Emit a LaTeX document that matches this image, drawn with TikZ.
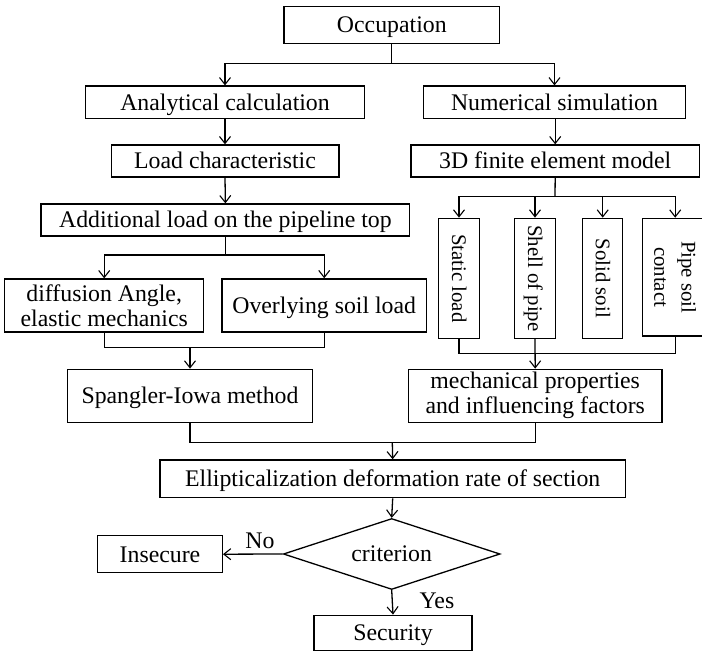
\documentclass[tikz,border=0pt]{standalone}
\usepackage{fontspec}
\setmainfont{Liberation Serif}
\usetikzlibrary{arrows.meta,shapes.geometric}
\begin{document}
\begin{tikzpicture}[x=1pt,y=-1pt,
  every node/.style={font=\fontsize{23.8}{25}\selectfont},
  box/.style={draw,line width=1.3pt,rectangle,inner sep=0pt,align=center},
  sbox/.style={box,text height=15.8pt,text depth=0pt},
  vbox/.style={box,rotate=-90,font=\fontsize{20.8}{27.3}\selectfont},
  vsbox/.style={vbox,text height=13.8pt,text depth=0pt},
  lbl/.style={inner sep=0pt,text height=15.8pt,text depth=0pt},
  ln/.style={line width=1.3pt},
  arr/.style={-{Straight Barb[length=7pt,width=11pt,line width=1.1pt]}},
  ]
\useasboundingbox (0,0) rectangle (702,652);
\clip (0,0) rectangle (702,652);
\node[sbox,minimum width=215.7pt,minimum height=36.6pt] (occ) at (391.8,25) {Occupation};
\node[sbox,minimum width=278.6pt,minimum height=32.3pt] (ana) at (225,102.2) {Analytical calculation};
\node[sbox,minimum width=262.6pt,minimum height=32.3pt] (num) at (554.5,102.2) {Numerical simulation};
\node[sbox,minimum width=227.7pt,minimum height=32pt] (load) at (225,161) {Load characteristic};
\node[sbox,minimum width=288.3pt,minimum height=32pt] (fem) at (555.2,161) {3D finite element model};
\node[sbox,minimum width=368.7pt,minimum height=32pt] (add) at (225.4,220) {Additional load on the pipeline top};
\node[box,minimum width=199pt,minimum height=53pt] (diff) at (104.2,305.5) {diffusion Angle,\\elastic mechanics};
\node[sbox,minimum width=204.3pt,minimum height=53pt] (over) at (324.2,305.4) {Overlying soil load};
\node[sbox,minimum width=245.4pt,minimum height=53pt] (spang) at (190,395.8) {Spangler-Iowa method};
\node[vsbox,minimum width=120pt,minimum height=40.6pt] (static) at (459,278.3) {Static load};
\node[vsbox,minimum width=120pt,minimum height=40.6pt] (shell) at (535,278.3) {Shell of pipe};
\node[vsbox,minimum width=120pt,minimum height=40pt] (solid) at (602.7,278.3) {Solid soil};
\node[vbox,minimum width=117.7pt,minimum height=65.7pt] (pipe) at (675.2,277.2) {Pipe soil\\contact};
\node[box,minimum width=253.7pt,minimum height=53pt] (mech) at (535.2,395.8) {mechanical properties\\and influencing factors};
\node[sbox,minimum width=465.3pt,minimum height=37.7pt] (ell) at (392.7,478.8) {Ellipticalization deformation rate of section};
\node[draw,diamond,aspect=3,line width=1.3pt,inner sep=0pt,text height=15.8pt,text depth=0pt,minimum width=216.7pt,minimum height=71pt] (dia) at (391.7,554) {criterion};
\node[sbox,minimum width=124.6pt,minimum height=37pt] (insec) at (160,554.2) {Insecure};
\node[sbox,minimum width=158pt,minimum height=35.5pt] (sec) at (393,633) {Security};
\node[lbl] (no) at (260,540.7) {No};
\node[lbl] (yes) at (437,600.7) {Yes};
% connectors
\coordinate (j1) at (391.8,63.3);
\draw[ln] (occ.south) -- (j1);
\draw[ln,arr] (j1) -| (ana.north);
\draw[ln,arr] (j1) -| (num.north);
\draw[ln,arr] (ana.south) -- (load.north);
\draw[ln,arr] (num.south) -- (fem.north |- num.south) -- (fem.north);
\draw[ln,arr] (load.south) -- (add.north);
\coordinate (j2) at (225.4,255);
\draw[ln] (add.south) -- (j2);
\draw[ln,arr] (j2) -| (diff.north);
\draw[ln,arr] (j2) -| (over.north);
\coordinate (j3) at (190,347.7);
\draw[ln] (diff.south) |- (j3);
\draw[ln] (over.south) |- (j3);
\draw[ln,arr] (j3) -- (spang.north);
\coordinate (j4) at (555,196.7);
\draw[ln] (fem.south) -- (j4);
\draw[ln,arr] (j4) -| (static.west);
\draw[ln,arr] (j4) -| (shell.west);
\draw[ln,arr] (j4) -| (solid.west);
\draw[ln,arr] (j4) -| (pipe.west);
\coordinate (j5) at (535,353.3);
\draw[ln] (static.east) |- (j5);
\draw[ln] (pipe.east) |- (j5);
\draw[ln,arr] (shell.east) -- (mech.north);
\coordinate (j6) at (392.3,442.7);
\draw[ln] (spang.south) |- (j6);
\draw[ln] (mech.south) |- (j6);
\draw[ln,arr] (j6) -- (ell.north);
\draw[ln,arr] (ell.south) -- (dia.north);
\draw[ln,arr] (dia.west) -- (insec.east);
\draw[ln,arr] (dia.south) -- (sec.north);
\end{tikzpicture}
\end{document}
